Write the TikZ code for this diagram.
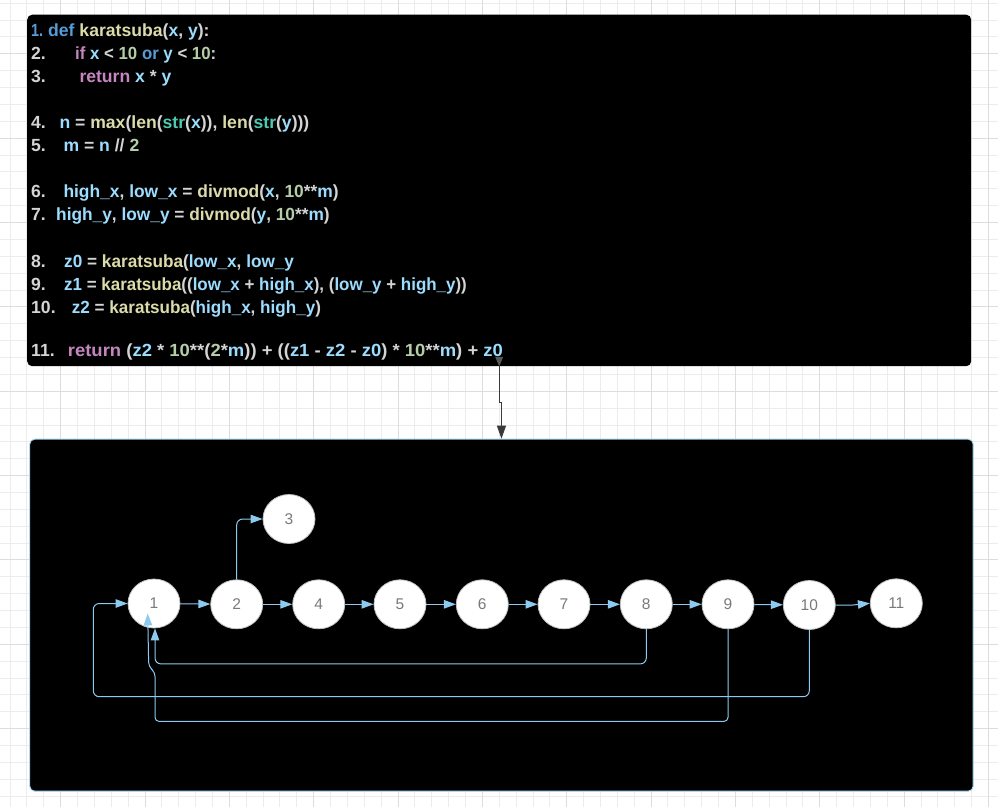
\documentclass[tikz,border=0pt]{standalone}
\usepackage{fontspec}
\usepackage{graphicx}
\setmainfont{Liberation Sans}
\usetikzlibrary{arrows.meta,shapes.geometric,calc}
\definecolor{ckw}{HTML}{C586C0}
\definecolor{cdf}{HTML}{569CD6}
\definecolor{cfn}{HTML}{DCDCAA}
\definecolor{cvr}{HTML}{9CDCFE}
\definecolor{cnm}{HTML}{B5CEA8}
\definecolor{cty}{HTML}{4EC9B0}
\definecolor{cop}{HTML}{D4D4D4}
\definecolor{gminor}{HTML}{ECECEC}
\definecolor{gmajor}{HTML}{DDDDDD}
\definecolor{edgeblue}{HTML}{8CCAF0}
\definecolor{connc}{HTML}{3A3A3A}
\newcommand\xK[1]{\textcolor{ckw}{#1}}
\newcommand\xD[1]{\textcolor{cdf}{#1}}
\newcommand\xF[1]{\textcolor{cfn}{#1}}
\newcommand\xV[1]{\textcolor{cvr}{#1}}
\newcommand\xN[1]{\textcolor{cnm}{#1}}
\newcommand\xT[1]{\textcolor{cty}{#1}}
\newcommand\xS[2]{\scalebox{#1}[1]{#2}}
\tikzset{
  gridminor/.style={draw=gminor, line width=0.9pt},
  gridmajor/.style={draw=gmajor, line width=0.9pt},
  codeline/.style={anchor=base west, inner sep=0pt, text=cop, font=\fontsize{17.6}{20}\selectfont\bfseries},
  gnode/.style={ellipse, fill=white, draw=black!25, line width=0.8pt, minimum width=52pt, minimum height=49pt, inner sep=0pt, text=black!52, font=\fontsize{15.5}{16}\selectfont},
  edge/.style={draw=edgeblue, line width=1pt, rounded corners=6pt, -{Triangle[length=12pt,width=8.5pt]}},
  conn/.style={draw=connc, line width=1.1pt, -{Triangle[length=13pt,width=9pt]}},
}
\begin{document}
\begin{tikzpicture}[x=1pt,y=-1pt]
\useasboundingbox (0,0) rectangle (998,807);
\fill[white] (0,0) rectangle (998,807);
% grid
\foreach \i in {0,...,58} \draw[gridminor] ({10+16.87*\i},0) -- ({10+16.87*\i},807);
\foreach \j in {0,...,47} \draw[gridminor] (0,{3.2+16.87*\j}) -- (998,{3.2+16.87*\j});
\foreach \i in {3,8,...,58} \draw[gridmajor] ({10+16.87*\i},0) -- ({10+16.87*\i},807);
\foreach \j in {3,8,...,43} \draw[gridmajor] (0,{3.2+16.87*\j}) -- (998,{3.2+16.87*\j});

% boxes
\node[fill=black, rounded corners=5pt, minimum width=944pt, minimum height=351.5pt, anchor=north west, inner sep=0pt] (code) at (27,14.5) {};
\node[fill=black, draw=edgeblue!80, line width=0.9pt, rounded corners=5pt, minimum width=943.4pt, minimum height=352pt, anchor=north west, inner sep=0pt] (graph) at (29.3,438.7) {};

% code lines
\node[codeline, text=cdf] (l1n) at (31,36) {\xS{0.82}{1.}};
\node[codeline] (l1) at (48,36) {\xD{def} \xF{karatsuba}(\xV{x}, \xV{y}):};
\node[codeline] (l2n) at (31,59) {2.};
\node[codeline] (l2) at (75,59) {\xS{0.955}{\xK{if} \xV{x} < \xN{10} \xD{or} \xV{y} < \xN{10}:}};
\node[codeline] (l3n) at (31,82) {3.};
\node[codeline] (l3) at (79.3,82) {\xK{return} \xV{x} * \xV{y}};
\node[codeline] (l4n) at (31,128) {4.};
\node[codeline] (l4) at (59.3,128) {\xV{n} = \xF{max}(\xF{len}(\xT{str}(\xV{x})), \xF{len}(\xT{str}(\xV{y})))};
\node[codeline] (l5n) at (31,151) {5.};
\node[codeline] (l5) at (63.3,151) {\xV{m} = \xV{n} // \xN{2}};
\node[codeline] (l6n) at (31,197.3) {6.};
\node[codeline] (l6) at (63.3,197.3) {\xS{0.989}{\xV{high\_x}, \xV{low\_x} = \xF{divmod}(\xV{x}, \xN{10}**\xV{m})}};
\node[codeline] (l7n) at (31,220.3) {7.};
\node[codeline] (l7) at (56,220.3) {\xS{0.983}{\xV{high\_y}, \xV{low\_y} = \xF{divmod}(\xV{y}, \xN{10}**\xV{m})}};
\node[codeline] (l8n) at (31,267) {8.};
\node[codeline] (l8) at (64,267) {\xS{0.977}{\xV{z0} = \xF{karatsuba}(\xV{low\_x}, \xV{low\_y}}};
\node[codeline] (l9n) at (31,290) {9.};
\node[codeline] (l9) at (64,290) {\xS{0.963}{\xV{z1} = \xF{karatsuba}((\xV{low\_x} + \xV{high\_x}), (\xV{low\_y} + \xV{high\_y}))}};
\node[codeline] (l10n) at (31,313) {10.};
\node[codeline] (l10) at (71.7,313) {\xS{0.97}{\xV{z2} = \xF{karatsuba}(\xV{high\_x}, \xV{high\_y})}};
\node[codeline] (l11n) at (31,356.5) {11.};
\node[codeline] (l11) at (67.7,356.5) {\xS{1.049}{\xK{return} (\xV{z2} * \xN{10}**(\xN{2}*\xV{m})) + ((\xV{z1} - \xV{z2} - \xV{z0}) * \xN{10}**\xV{m}) + \xV{z0}}};

% connector between boxes
\draw[conn] (code.south) -- ++(0,36) -| (graph.north);
\fill[connc!85!white] (code.south) -- ++(-4,-9.5) -- ++(8,0) -- cycle;

% graph nodes
\node[gnode] (n1) at (154,603.5) {1};
\node[gnode] (n2) at (236.7,604.3) {2};
\node[gnode] (n3) at (289,519) {3};
\node[gnode] (n4) at (318.7,604.3) {4};
\node[gnode] (n5) at (400,604.3) {5};
\node[gnode] (n6) at (482.3,604.3) {6};
\node[gnode] (n7) at (564,604.3) {7};
\node[gnode] (n8) at (646.3,604.3) {8};
\node[gnode] (n9) at (728,604.3) {9};
\node[gnode] (n10) at (809.3,605) {10};
\node[gnode] (n11) at (896.3,603.3) {11};

% forward edges
\draw[edge] (n1) -- (n2);
\draw[edge] (n2) -- (n4);
\draw[edge] (n4) -- (n5);
\draw[edge] (n5) -- (n6);
\draw[edge] (n6) -- (n7);
\draw[edge] (n7) -- (n8);
\draw[edge] (n8) -- (n9);
\draw[edge] (n9) -- (n10);
\draw[edge, rounded corners=0pt] (n10.east) -- ++(17,0) -- (n11.west);
\draw[edge] (n2.north) |- (n3.west);

% back edges
\coordinate (b8) at ($(n1.south)+(1,35.5)$);
\draw[edge] (n8.south) |- (b8) -- ($(n1.south)+(1,0)$);
\coordinate (r10) at (93.3,696.7);
\draw[edge] (n10.south) |- (r10) |- (n1.west);
\coordinate (b9) at ($(n1.south)+(1,93)$);
\draw[edge, rounded corners=4pt] (n9.south) |- (b9) -- ($(n1.south)+(1,44)$) -- ($(n1.south)+(-5.3,38)$) -- ($(n1.center)+(-6.3,10)$);
\end{tikzpicture}
\end{document}
